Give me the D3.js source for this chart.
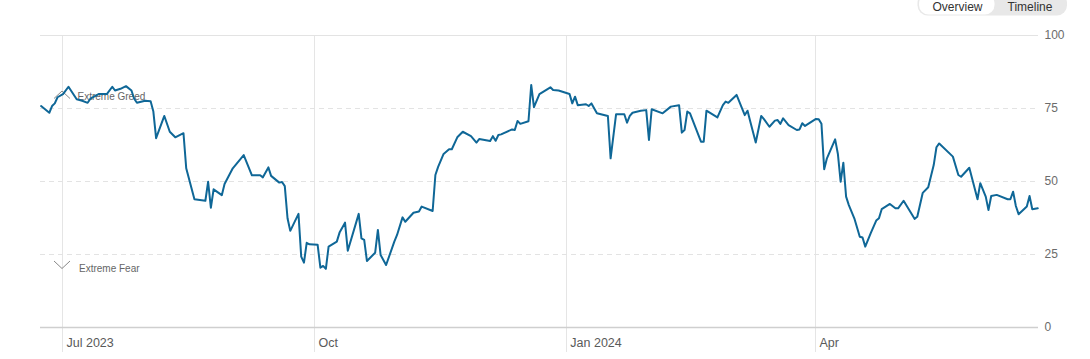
<!DOCTYPE html>
<html><head><meta charset="utf-8">
<script src="https://cdn.jsdelivr.net/npm/d3@7"></script>
<style>
html,body{margin:0;padding:0;background:#fff;}
svg{display:block;font-family:"Liberation Sans",Arial,Helvetica,sans-serif;}
</style></head><body>
<svg id="chart" width="1090" height="359"></svg>
<script>
const dates = ["2023-06-23","2023-06-26","2023-06-27","2023-06-28","2023-06-29","2023-07-01","2023-07-03","2023-07-06","2023-07-08","2023-07-10","2023-07-11","2023-07-14","2023-07-17","2023-07-19","2023-07-20","2023-07-22","2023-07-24","2023-07-26","2023-07-27","2023-07-28","2023-07-31","2023-08-02","2023-08-03","2023-08-04","2023-08-07","2023-08-09","2023-08-11","2023-08-14","2023-08-15","2023-08-18","2023-08-22","2023-08-23","2023-08-24","2023-08-25","2023-08-28","2023-08-29","2023-09-01","2023-09-05","2023-09-08","2023-09-11","2023-09-12","2023-09-14","2023-09-15","2023-09-18","2023-09-19","2023-09-20","2023-09-21","2023-09-22","2023-09-25","2023-09-26","2023-09-27","2023-09-28","2023-09-29","2023-10-02","2023-10-03","2023-10-04","2023-10-05","2023-10-06","2023-10-09","2023-10-10","2023-10-12","2023-10-13","2023-10-17","2023-10-18","2023-10-19","2023-10-20","2023-10-23","2023-10-24","2023-10-25","2023-10-27","2023-10-30","2023-10-31","2023-11-02","2023-11-03","2023-11-06","2023-11-08","2023-11-09","2023-11-13","2023-11-14","2023-11-15","2023-11-17","2023-11-19","2023-11-20","2023-11-22","2023-11-24","2023-11-27","2023-11-29","2023-11-30","2023-12-04","2023-12-05","2023-12-06","2023-12-07","2023-12-08","2023-12-12","2023-12-13","2023-12-14","2023-12-15","2023-12-18","2023-12-19","2023-12-20","2023-12-22","2023-12-26","2023-12-27","2023-12-29","2024-01-02","2024-01-03","2024-01-04","2024-01-05","2024-01-08","2024-01-09","2024-01-10","2024-01-12","2024-01-16","2024-01-17","2024-01-19","2024-01-22","2024-01-23","2024-01-24","2024-01-25","2024-01-28","2024-01-30","2024-01-31","2024-02-01","2024-02-05","2024-02-08","2024-02-11","2024-02-12","2024-02-13","2024-02-14","2024-02-15","2024-02-19","2024-02-20","2024-02-21","2024-02-25","2024-02-27","2024-02-28","2024-02-29","2024-03-03","2024-03-06","2024-03-07","2024-03-08","2024-03-10","2024-03-12","2024-03-13","2024-03-15","2024-03-17","2024-03-18","2024-03-19","2024-03-20","2024-03-22","2024-03-25","2024-03-26","2024-03-27","2024-03-28","2024-04-01","2024-04-02","2024-04-03","2024-04-04","2024-04-05","2024-04-08","2024-04-09","2024-04-10","2024-04-11","2024-04-12","2024-04-13","2024-04-15","2024-04-17","2024-04-18","2024-04-19","2024-04-21","2024-04-23","2024-04-24","2024-04-25","2024-04-28","2024-04-30","2024-05-01","2024-05-03","2024-05-07","2024-05-08","2024-05-10","2024-05-12","2024-05-14","2024-05-15","2024-05-16","2024-05-21","2024-05-23","2024-05-24","2024-05-27","2024-05-30","2024-05-31","2024-06-02","2024-06-03","2024-06-04","2024-06-06","2024-06-10","2024-06-11","2024-06-12","2024-06-13","2024-06-14","2024-06-17","2024-06-18","2024-06-19","2024-06-21"];
const values = [75.7,73.4,75.7,76.6,78.7,79.8,82.3,78.0,77.5,76.8,78.2,79.8,79.8,82.3,81.0,81.6,82.5,81.0,78.2,76.8,77.5,77.3,73.8,64.7,72.3,66.9,65.0,66.4,54.4,43.8,43.3,49.8,40.9,47.2,45.2,49.0,54.4,58.9,52.0,52.0,51.3,54.7,51.8,49.5,49.7,48.3,37.3,33.0,38.8,24.2,22.1,28.9,28.4,28.2,20.4,21.0,20.0,27.6,29.3,32.4,35.8,26.2,38.8,30.4,29.9,22.7,25.5,33.3,24.7,21.3,29.3,31.6,37.6,36.1,39.2,39.6,41.3,39.8,52.1,54.9,59.3,60.9,60.9,65.0,66.9,65.4,63.2,64.4,63.7,65.4,63.8,65.8,66.0,67.7,67.5,70.6,69.6,70.5,82.9,75.3,79.8,82.1,81.2,81.0,79.8,76.6,78.9,76.0,76.3,75.7,76.6,73.2,72.3,57.8,72.9,72.9,70.0,72.3,73.4,74.1,74.3,64.1,74.6,73.2,75.5,76.0,66.6,67.5,73.8,73.2,63.5,63.5,74.1,71.8,76.0,77.2,76.8,79.5,72.6,74.1,70.4,63.2,72.3,71.2,68.6,70.7,70.9,69.6,71.5,69.2,67.5,67.7,69.8,68.9,71.3,71.2,69.6,54.1,57.8,64.3,59.3,49.8,56.3,44.7,41.8,37.3,31.0,30.7,27.6,32.2,36.5,37.3,40.4,42.2,40.7,40.7,43.3,37.1,37.8,46.0,47.9,55.5,61.6,62.9,58.4,52.1,51.5,54.6,43.8,49.3,44.7,40.1,44.9,45.3,43.8,43.8,46.4,41.5,38.7,41.3,44.9,40.4,40.7];
const yTicks = [0,25,50,75,100];
const xTickDates = ["2023-07-01","2023-10-01","2024-01-01","2024-04-01"];
const xTickLabels = ["Jul 2023","Oct","Jan 2024","Apr"];
const zoneLabels = ["Extreme Greed","Extreme Fear"];
const buttonLabels = ["Overview","Timeline"];

const parse = d3.timeParse("%Y-%m-%d");
const data = dates.map((d,i)=>({date:parse(d), value:values[i]}));
const svg = d3.select("#chart");

const x = d3.scaleTime().domain([parse("2023-06-23"), parse("2024-06-22")]).range([41.1, 1040.5]);
const y = d3.scaleLinear().domain([0,100]).range([327.3, 35]);
const left = 40, right = 1038;

// vertical grid lines
const xt = xTickDates.map(parse);
svg.append("g").selectAll("line").data(xt).join("line")
  .attr("x1", d=>Math.round(x(d))-0.5).attr("x2", d=>Math.round(x(d))-0.5)
  .attr("y1", 35).attr("y2", 352)
  .attr("stroke", "#e5e5e5").attr("stroke-width", 1);

// horizontal grid lines
svg.append("g").selectAll("line").data(yTicks).join("line")
  .attr("x1", left).attr("x2", right)
  .attr("y1", d=>Math.round(y(d))+0.5).attr("y2", d=>Math.round(y(d))+0.5)
  .attr("stroke", d=> d===0 ? "#cfcfcf" : "#e3e3e3")
  .attr("stroke-width", d=> d===0 ? 1.5 : 1)
  .attr("stroke-dasharray", d=> (d===0||d===100) ? null : "5,4");

// right labels
svg.append("g").selectAll("text").data(yTicks).join("text")
  .attr("x", 1044.5).attr("y", d=>y(d)+4)
  .attr("fill", "#6b6b6b").attr("font-size", 12).text(d=>d);

// x labels
svg.append("g").selectAll("text").data(xt).join("text")
  .attr("x", d=>x(d)+3.5).attr("y", 347)
  .attr("fill", "#5a5a5a").attr("font-size", 12.5)
  .text((d,i)=>xTickLabels[i]);

// zone annotations
const ann = svg.append("g");
ann.append("path").attr("d", "M54,98.5L62,91L70,98.5").attr("fill","none").attr("stroke","#888").attr("stroke-width",1);
ann.append("path").attr("d", "M54,261L62,268.5L70,261").attr("fill","none").attr("stroke","#888").attr("stroke-width",1);
ann.append("text").attr("x",77.5).attr("y",100.3).attr("font-size",10).attr("fill","#666").text(zoneLabels[0]);
ann.append("text").attr("x",79).attr("y",271.5).attr("font-size",10).attr("fill","#666").text(zoneLabels[1]);

// line
const line = d3.line().x(d=>x(d.date)).y(d=>y(d.value));
svg.append("path").datum(data).attr("d", line)
  .attr("fill","none").attr("stroke","#0f6797").attr("stroke-width",2)
  .attr("stroke-linejoin","round").attr("stroke-linecap","round");

// toggle buttons
const btn = svg.append("g");
btn.append("rect").attr("x",917.5).attr("y",-7).attr("width",149.5).attr("height",22.5).attr("rx",10).attr("fill","#e8e8e8");
btn.append("rect").attr("x",919).attr("y",-6).attr("width",75.5).attr("height",20.5).attr("rx",9.5).attr("fill","#fff");
btn.selectAll("text.b").data(buttonLabels).join("text").attr("class","b")
  .attr("x",(d,i)=> i===0 ? 957.5 : 1030).attr("y",10.5)
  .attr("text-anchor","middle").attr("font-size",12).attr("fill","#333").text(d=>d);
</script>
</body></html>
